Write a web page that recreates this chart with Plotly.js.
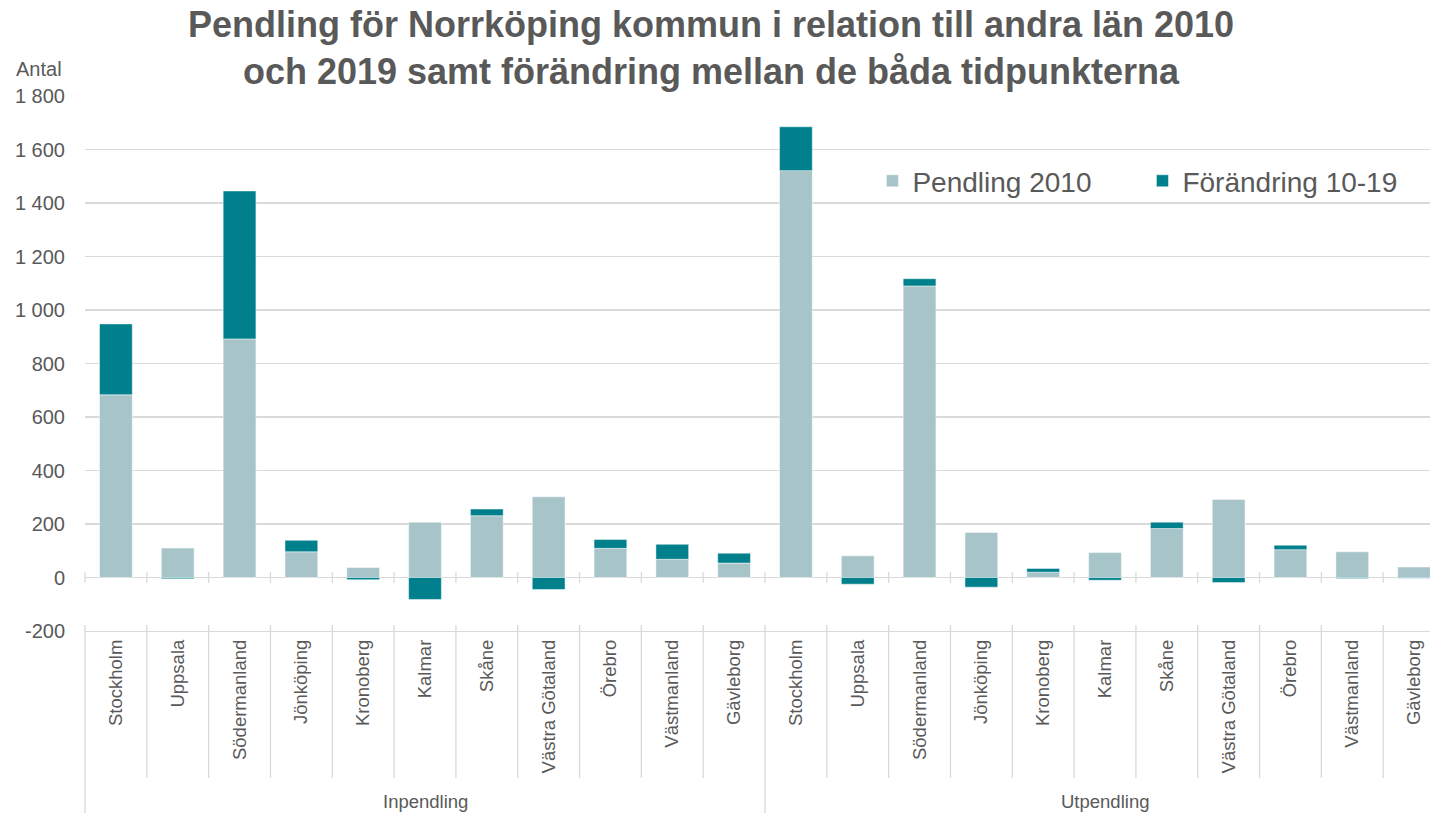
<!DOCTYPE html>
<html><head><meta charset="utf-8">
<script src="https://cdn.plot.ly/plotly-3.0.1.min.js"></script>
<style>html,body{margin:0;padding:0;overflow:hidden;background:#fff}</style>
</head><body><div id="chart" style="width:1446px;height:813px"></div>
<script>
// ---- data ----
const groups = ['Inpendling', 'Utpendling'];
const regions = ['Stockholm','Uppsala','Södermanland','Jönköping','Kronoberg','Kalmar','Skåne','Västra Götaland','Örebro','Västmanland','Gävleborg'];
const pendling2010In = [683, 110, 892, 96, 37, 207, 231, 302, 109, 68, 54];
const forandringIn   = [265, -5, 553, 43, -8, -82, 25, -45, 33, 56, 37];
const pendling2010Ut = [1521, 81, 1090, 168, 20, 93, 183, 292, 104, 96, 39];
const forandringUt   = [164, -25, 27, -36, 14, -10, 24, -19, 17, -4, -3];
const seriesNames = ['Pendling 2010', 'Förändring 10-19'];
const yTicks = [-200, 0, 200, 400, 600, 800, 1000, 1200, 1400, 1600, 1800];
const yTickText = ['-200', '0', '200', '400', '600', '800', '1 000', '1 200', '1 400', '1 600', '1 800'];

// ---- build ----
const xIds = [], xText = [];
groups.forEach(g => regions.forEach(r => { xIds.push(g + '|' + r); xText.push(r); }));
const base = pendling2010In.concat(pendling2010Ut);
const change = forandringIn.concat(forandringUt);
const N = xIds.length;

const textColor = '#595959';
const gridColor = '#d9d9d9';
const fam = 'Arial, "Liberation Sans", sans-serif';

const traces = [
  {type:'bar', name: seriesNames[0], x: xIds, y: base,
   marker:{color:'#A7C4C9', line:{color:'rgba(255,255,255,0.6)', width:0.8}}, hoverinfo:'y'},
  {type:'bar', name: seriesNames[1], x: xIds, y: change,
   marker:{color:'#00808C', line:{color:'rgba(255,255,255,0.6)', width:0.8}}, hoverinfo:'y'}
];

const shapes = [];
const perGroup = regions.length;
for (let i = 0; i <= N; i++) {
  const isGroup = (i % perGroup === 0);
  shapes.push({type:'line', xref:'paper', yref:'paper', x0:i/N, x1:i/N,
    y0: 6/535, y1: isGroup ? -0.345 : -0.2748, line:{color:gridColor, width:1.3}});
  shapes.push({type:'line', xref:'paper', yref:'y', x0:i/N, x1:i/N, y0:-20, y1:20,
    line:{color:gridColor, width:1.3}});
}

const annotations = [
  {text:'Antal', xref:'paper', yref:'paper', x:-0.0522, y:1.0505, xanchor:'left', yanchor:'middle',
   showarrow:false, font:{family:fam, size:20, color:textColor}}
];
groups.forEach((g, gi) => {
  annotations.push({text:g, xref:'x', yref:'paper', x: gi*perGroup + (perGroup-1)/2, y:-0.318,
    xanchor:'center', yanchor:'middle', showarrow:false, font:{family:fam, size:18.5, color:textColor}});
});

const layout = {
  width:1446, height:813,
  margin:{l:85, r:1, t:96, b:182},
  paper_bgcolor:'#fff', plot_bgcolor:'#fff',
  barmode:'relative', bargap:0.47,
  title:{text:'Pendling för Norrköping kommun i relation till andra län 2010<br>och 2019 samt förändring mellan de båda tidpunkterna',
    xref:'container', yref:'container', x:711/1446, xanchor:'center', y:1-37/813, yanchor:'top',
    font:{family:fam, size:36, weight:'bold', color:textColor}},
  xaxis:{type:'category', tickvals:xIds, ticktext:xText, tickangle:-90, range:[-0.5, N-0.5],
    showgrid:false, zeroline:false, showline:true, linecolor:gridColor, linewidth:1.3,
    ticks:'', ticklabelstandoff:0, tickfont:{family:fam, size:18.5, color:textColor}},
  yaxis:{range:[-200, 1800], tickvals:yTicks, ticktext:yTickText, showgrid:true, gridcolor:gridColor, gridwidth:1.3,
    zeroline:true, zerolinecolor:gridColor, zerolinewidth:1.5, showline:false, ticks:'',
    ticklabelstandoff:19, tickfont:{family:fam, size:20, color:textColor}},
  legend:{orientation:'h', x:0.579, xanchor:'left', y:0.841, yanchor:'middle', bgcolor:'rgba(0,0,0,0)',
    entrywidth:225, entrywidthmode:'pixels', traceorder:'normal',
    font:{family:fam, size:28, color:textColor}},
  shapes: shapes,
  annotations: annotations,
  showlegend:true
};

Plotly.newPlot('chart', traces, layout, {displayModeBar:false, staticPlot:true});
</script></body></html>
